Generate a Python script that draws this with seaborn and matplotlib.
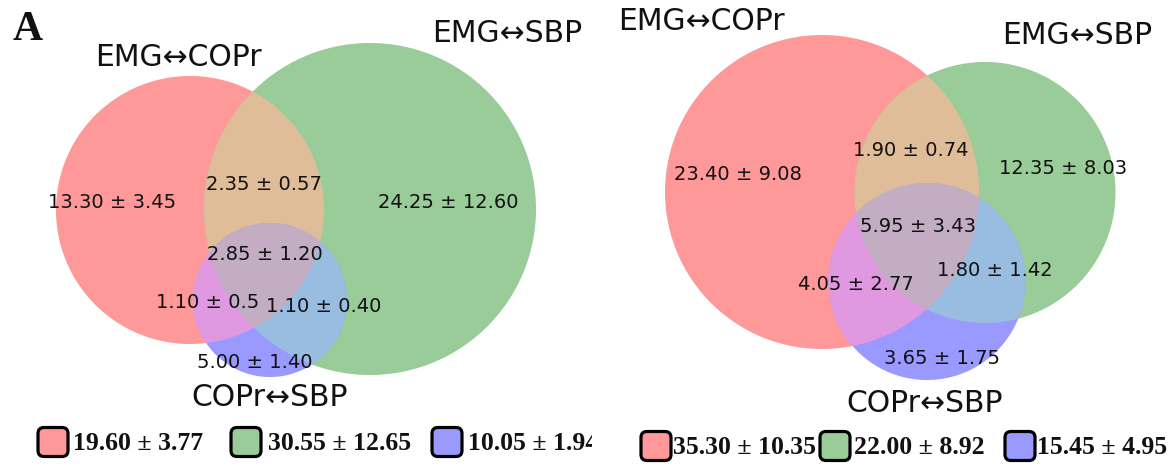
import numpy as np
import matplotlib
matplotlib.use("Agg")
import matplotlib.pyplot as plt
import matplotlib.colors as mcolors
from matplotlib.patches import Polygon, FancyBboxPatch
import seaborn as sns

# ---------------- data ----------------
set_names = ["EMG↔COPr", "EMG↔SBP", "COPr↔SBP"]
# region order (matplotlib-venn style): A only, B only, AB, C only, AC, BC, ABC
region_keys = ["100", "010", "110", "001", "101", "011", "111"]

left_region_mean = [13.30, 24.25, 2.35, 5.00, 1.10, 1.10, 2.85]
left_region_sd = ["3.45", "12.60", "0.57", "1.40", "0.5", "0.40", "1.20"]
left_set_sd = ["3.77", "12.65", "1.94"]

right_region_mean = [23.40, 12.35, 1.90, 3.65, 4.05, 1.80, 5.95]
right_region_sd = ["9.08", "8.03", "0.74", "1.75", "2.77", "1.42", "3.43"]
right_set_sd = ["10.35", "8.92", "4.95"]

panel_letter = "A"

# ---------------- layout (pixel-like axes units) ----------------
left_layout = dict(
    rect=(0, 592),
    centers=[(190, 210), (370, 209), (270, 300)],
    radii=[134, 166, 77],
    region_pos=[(112, 203), (448, 202), (264, 185), (255, 363),
                (208, 302), (324, 306), (265, 255)],
    set_label_pos=[(178, 57), (507, 33), (270, 398)],
    legend_box_x=[53, 246, 447], legend_text_x=[73, 268, 468], legend_y=442,
)
right_layout = dict(
    rect=(600, 1169),
    centers=[(822, 192), (985, 192.5), (927, 281.5)],
    radii=[157, 130.5, 98.5],
    region_pos=[(738, 174), (1063, 168), (911, 151), (942, 358),
                (856, 285), (995, 270), (918, 227)],
    set_label_pos=[(701, 21), (1077, 36), (925, 403)],
    legend_box_x=[656, 835, 1020], legend_text_x=[673, 854, 1037], legend_y=446,
)

W, H = 1169, 470

sns.set_theme(style="white")
plt.rcParams["font.family"] = ["DejaVu Sans"]

base = [np.array(mcolors.to_rgb(c)) for c in [(1, 0, 0), (0, 0.5, 0), (0, 0, 1)]]


def mix(*cols):
    if len(cols) == 2:
        m = 0.7 * (cols[0] + cols[1])
    else:
        m = 0.4 * (cols[0] + cols[1] + cols[2])
    return np.minimum(m, 1.0)


def over_white(c, alpha=0.4):
    return tuple(1 - alpha * (1 - np.asarray(c)))


def circle_pts(c, r, n=3000):
    t = np.linspace(0, 2 * np.pi, n, endpoint=False)
    return np.column_stack([c[0] + r * np.cos(t), c[1] + r * np.sin(t)])


def intersection_poly(idx, centers, radii):
    pts = []
    for i in idx:
        p = circle_pts(centers[i], radii[i])
        keep = np.ones(len(p), bool)
        for j in idx:
            if j == i:
                continue
            d2 = (p[:, 0] - centers[j][0]) ** 2 + (p[:, 1] - centers[j][1]) ** 2
            keep &= d2 <= radii[j] ** 2
        pts.append(p[keep])
    pts = np.vstack(pts)
    cen = pts.mean(axis=0)
    ang = np.arctan2(pts[:, 1] - cen[1], pts[:, 0] - cen[0])
    return pts[np.argsort(ang)]


fig = plt.figure(figsize=(W / 100, H / 100), dpi=100)
fig.patch.set_facecolor("white")


def draw_panel(layout, means, sds, set_sds):
    x0, x1 = layout["rect"]
    ax = fig.add_axes([x0 / W, 0, (x1 - x0) / W, 1])
    ax.set_xlim(x0, x1)
    ax.set_ylim(H, 0)
    ax.axis("off")
    centers, radii = layout["centers"], layout["radii"]

    # single sets
    for i in range(3):
        ax.add_patch(Polygon(circle_pts(centers[i], radii[i]), closed=True,
                             fc=over_white(base[i]), ec="none"))
    # pairwise
    for (i, j) in [(0, 1), (0, 2), (1, 2)]:
        ax.add_patch(Polygon(intersection_poly([i, j], centers, radii), closed=True,
                             fc=over_white(mix(base[i], base[j])), ec="none"))
    # triple
    ax.add_patch(Polygon(intersection_poly([0, 1, 2], centers, radii), closed=True,
                         fc=over_white(mix(base[0], base[1], base[2])), ec="none"))

    # region labels
    for (x, y), m, s in zip(layout["region_pos"], means, sds):
        ax.text(x, y, f"{m:.2f} ± {s}", ha="center", va="center",
                fontsize=14, color="#111111")
    # set labels
    for (x, y), name in zip(layout["set_label_pos"], set_names):
        ax.text(x, y, name, ha="center", va="center", fontsize=21.5, color="#111111")

    # legend: set totals derived from region values
    totals = [sum(m for k, m in zip(region_keys, means) if k[i] == "1") for i in range(3)]
    y = layout["legend_y"]
    for i in range(3):
        bx = layout["legend_box_x"][i]
        ax.add_patch(FancyBboxPatch((bx - 15, y - 14.5), 30, 29,
                                    boxstyle="round,pad=0,rounding_size=6",
                                    fc=over_white(base[i]), ec="black", lw=2.3))
        ax.text(layout["legend_text_x"][i], y + 1, f"{totals[i]:.2f} ± {set_sds[i]}",
                ha="left", va="center", fontsize=18.5, fontweight="bold",
                family="Liberation Serif", color="#111111", clip_on=True)
    return ax


axL = draw_panel(left_layout, left_region_mean, left_region_sd, left_set_sd)
axR = draw_panel(right_layout, right_region_mean, right_region_sd, right_set_sd)

axL.text(28, 30, panel_letter, ha="center", va="center", fontsize=30,
         fontweight="bold", family="Liberation Serif", color="#111111")

fig.savefig("out.png", dpi=100, facecolor="white")
